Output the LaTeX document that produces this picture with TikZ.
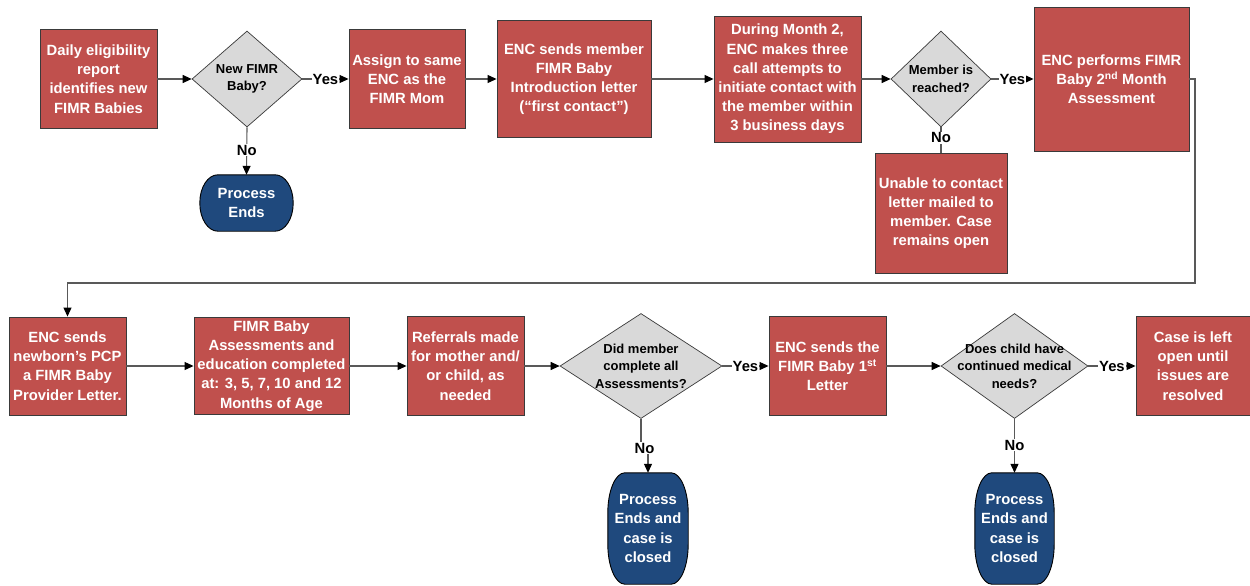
\documentclass[tikz,border=0pt]{standalone}
\usepackage{fontspec}
\setmainfont{Liberation Sans}
\usetikzlibrary{shapes.geometric,arrows.meta,backgrounds}
\definecolor{boxred}{HTML}{C0504D}
\definecolor{boxline}{HTML}{3A3A3A}
\definecolor{diagray}{HTML}{D9D9D9}
\definecolor{termblue}{HTML}{1F497D}
\definecolor{conncol}{HTML}{595959}
\newcommand\bigtxt{\fontsize{14.8}{19.2}\selectfont\bfseries}
\newcommand\smalltxt{\fontsize{13}{17.4}\selectfont\bfseries}
% elliptical-cornered terminator outline drawn around a node: name, rx, ry
\newcommand\termpath[3]{%
  \path[termshape] ([xshift=#2]#1.north west) -- ([xshift=-#2]#1.north east)
   .. controls ([xshift=-0.448*#2]#1.north east) and ([yshift=-0.448*#3]#1.north east) .. ([yshift=-#3]#1.north east)
   -- ([yshift=#3]#1.south east)
   .. controls ([yshift=0.448*#3]#1.south east) and ([xshift=-0.448*#2]#1.south east) .. ([xshift=-#2]#1.south east)
   -- ([xshift=#2]#1.south west)
   .. controls ([xshift=0.448*#2]#1.south west) and ([yshift=0.448*#3]#1.south west) .. ([yshift=#3]#1.south west)
   -- ([yshift=-#3]#1.north west)
   .. controls ([yshift=-0.448*#3]#1.north west) and ([xshift=0.448*#2]#1.north west) .. cycle;}

\begin{document}
\begin{tikzpicture}[x=1pt,y=-1pt,
  box/.style={rectangle, draw=boxline, line width=0.9pt, fill=boxred, text=white, font=\bigtxt, align=center, inner sep=1pt},
  dia/.style={diamond, draw=boxline, line width=0.7pt, fill=diagray, inner sep=0pt},
  dtext/.style={font=\smalltxt, align=center, text=black, inner sep=0pt},
  term/.style={rectangle, text=white, font=\bigtxt, align=center, inner sep=0pt},
  termshape/.style={fill=termblue, draw=black, line width=0.9pt},
  link/.style={draw=conncol, line width=1.1pt},
  arr/.style={link, -{Triangle[length=9pt,width=8pt,color=black]}},
  lbl/.style={fill=white, font=\bigtxt, inner sep=1pt, text=black},
]
\useasboundingbox (0,0) rectangle (1250,586);

% ---------- top row ----------
\node[box, minimum width=117pt, minimum height=99pt] (b1) at (98.5,79) {Daily eligibility\\report\\identifies new\\FIMR Babies};
\node[dia, minimum width=110pt, minimum height=96pt] (d1) at (247,79) {};
\node[dtext] (d1t) at (247,79) {New FIMR\\Baby?};
\node[box, minimum width=116pt, minimum height=99pt] (b2) at (407,79) {Assign to same\\ENC as the\\FIMR Mom};
\node[box, minimum width=154pt, minimum height=117pt] (b3) at (574,79) {ENC sends member\\FIMR Baby\\Introduction letter\\(“first contact”)};
\node[box, minimum width=147pt, minimum height=126pt] (b4) at (787.5,79) {During Month 2,\\ENC makes three\\call attempts to\\initiate contact with\\the member within\\3 business days};
\node[dia, minimum width=100pt, minimum height=96pt] (d2) at (941,79) {};
\node[dtext] (d2t) at (941,79) {Member is\\reached?};
\node[box, minimum width=155pt, minimum height=144pt] (b5) at (1111.5,79) {ENC performs FIMR\\Baby 2\textsuperscript{nd} Month\\Assessment};
\node[box, minimum width=132pt, minimum height=120pt] (b6) at (941,213) {Unable to contact\\letter mailed to\\member. Case\\remains open};
\node[term, minimum width=93pt, minimum height=56pt] (t1) at (246.5,203) {Process\\Ends};

% ---------- bottom row ----------
\node[box, minimum width=117pt, minimum height=98pt] (b7) at (67.5,366) {ENC sends\\newborn’s PCP\\a FIMR Baby\\Provider Letter.};
\node[box, minimum width=155pt, minimum height=97pt] (b8) at (271.5,366) {FIMR Baby\\Assessments and\\education completed\\at: 3, 5, 7, 10 and 12\\Months of Age};
\node[box, minimum width=117pt, minimum height=99pt] (b9) at (465.5,366) {Referrals made\\for mother and/\\or child, as\\needed};
\node[dia, minimum width=162pt, minimum height=105pt] (d3) at (641,366) {};
\node[dtext] (d3t) at (641,366) {Did member\\complete all\\Assessments?};
\node[box, minimum width=117pt, minimum height=99pt] (b10) at (827.5,366) {ENC sends the\\FIMR Baby 1\textsuperscript{st}\\Letter};
\node[dia, minimum width=147pt, minimum height=105pt] (d4) at (1014.5,366) {};
\node[dtext] (d4t) at (1014.5,366) {Does child have\\continued medical\\needs?};
\node[box, minimum width=114pt, minimum height=99pt] (b11) at (1193,366) {Case is left\\open until\\issues are\\resolved};
\node[term, minimum width=80pt, minimum height=111pt] (t2) at (648,528.5) {Process\\Ends and\\case is\\closed};
\node[term, minimum width=79pt, minimum height=111pt] (t3) at (1014.5,528.5) {Process\\Ends and\\case is\\closed};

\begin{scope}[on background layer]
  \fill[white] (0,0) rectangle (1250,586);
  \termpath{t1}{18pt}{28pt}
  \termpath{t2}{17pt}{40pt}
  \termpath{t3}{17pt}{40pt}
\end{scope}

% ---------- connectors, top row ----------
\draw[arr] (b1.east) -- (d1.west);
\draw[arr] (d1.east) -- (b2.west) node[lbl, pos=0.5] {Yes};
\draw[arr] (d1.south) -- (t1.north) node[lbl, pos=0.48] {No};
\draw[arr] (b2.east) -- (b3.west);
\draw[arr] (b3.east) -- (b4.west);
\draw[arr] (b4.east) -- (d2.west);
\draw[arr] (d2.east) -- (b5.west) node[lbl, pos=0.5] {Yes};
\draw[link] (d2.south) -- (b6.north) node[lbl, pos=0.42] {No};
\coordinate (loopcorner) at (1195,283);
\draw[arr] (b5.east) -| (loopcorner) -| (b7.north);

% ---------- connectors, bottom row ----------
\draw[arr] (b7.east) -- (b8.west);
\draw[arr] (b8.east) -- (b9.west);
\draw[arr] (b9.east) -- (d3.west);
\draw[arr] (d3.east) -- (b10.west) node[lbl, pos=0.5] {Yes};
\node[lbl] (n3) at (644.5,448) {No};
\draw[link] (d3.south) -- (d3.south |- n3.north);
\draw[arr] (t2.north |- n3.south) -- (t2.north);
\draw[arr] (b10.east) -- (d4.west);
\draw[arr] (d4.east) -- (b11.west) node[lbl, pos=0.5] {Yes};
\draw[arr] (d4.south) -- (t3.north) node[lbl, pos=0.49] {No};
\end{tikzpicture}
\end{document}
